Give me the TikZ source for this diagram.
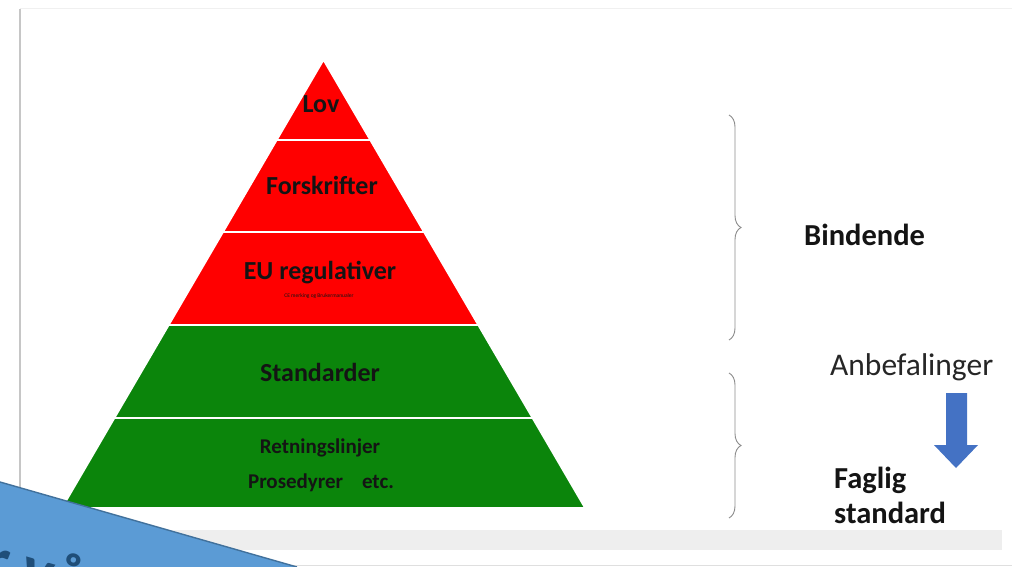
\documentclass[tikz,border=0pt]{standalone}
\usepackage{fontspec}
\setmainfont{Carlito}
\usetikzlibrary{decorations.pathreplacing}
\definecolor{pyred}{HTML}{FF0000}
\definecolor{pygreen}{HTML}{0B850B}
\definecolor{txtdark}{HTML}{141414}
\definecolor{bracegray}{HTML}{8C8C8C}
\definecolor{arrowblue}{HTML}{4472C4}
\definecolor{shapeblue}{HTML}{5B9BD5}
\definecolor{shapeedge}{HTML}{41719C}
\definecolor{bluetext}{HTML}{1F4E79}
\definecolor{bargray}{HTML}{EEEEEE}
\tikzset{
  layer/.style={draw=white, line width=1.6pt, line join=miter},
  ptext/.style={anchor=base, inner sep=0pt, text=txtdark, font=\bfseries\fontsize{26}{30}\selectfont},
  psmall/.style={anchor=base, inner sep=0pt, text=txtdark, font=\bfseries\fontsize{21}{25}\selectfont},
  sidetext/.style={anchor=base west, inner sep=0pt, text=txtdark, font=\bfseries\fontsize{30.5}{34}\selectfont},
  bracestyle/.style={draw=bracegray, line width=0.9pt, decorate, decoration={brace, amplitude=12pt, aspect=0.5}},
}
\begin{document}
\begin{tikzpicture}[x=1pt, y=-1pt]
\useasboundingbox (0,0) rectangle (1012,567);
\fill[white] (0,0) rectangle (1012,567);
% slide frame
\draw[gray!12, line width=1pt] (20,9) -- (1012,9);
\draw[gray!45, line width=1.6pt] (20,9) -- (20,567);
\fill[bargray] (20,530) rectangle (1002,550);
\draw[gray!25, line width=0.8pt] (20,565) -- (1012,565);
% pyramid layers
\fill[pyred, layer] (323.5,60) -- (370.2,140) -- (276.8,140) -- cycle;
\fill[pyred, layer] (276.8,140) -- (370.2,140) -- (423.9,232) -- (223.1,232) -- cycle;
\fill[pyred, layer] (223.1,232) -- (423.9,232) -- (478.2,325) -- (168.8,325) -- cycle;
\fill[pygreen, layer] (168.8,325) -- (478.2,325) -- (532.5,418) -- (114.5,418) -- cycle;
\fill[pygreen, layer] (114.5,418) -- (532.5,418) -- (585,508) -- (62,508) -- cycle;
% pyramid labels
\node[ptext] (lov) at (321,113) {Lov};
\node[ptext] (forskrifter) at (322,194) {Forskrifter};
\node[ptext] (eureg) at (320,279) {EU regulativer};
\node[anchor=base, inner sep=0pt, text=txtdark, font=\fontsize{5.5}{6}\selectfont] (ce) at (319,297) {CE merking og Brukermanualer};
\node[ptext] (standarder) at (320,381) {Standarder};
\node[psmall] (retning) at (320,453) {Retningslinjer};
\node[psmall] (prosedyrer) at (321,488) {Prosedyrer\hspace{0.9em}etc.};
% braces
\coordinate (b1top) at (729,115);
\coordinate (b1bot) at (729,340);
\coordinate (b2top) at (729,373);
\coordinate (b2bot) at (729,518);
\draw[bracestyle] (b1top) -- (b1bot);
\draw[bracestyle] (b2top) -- (b2bot);
% side labels
\node[sidetext] (bindende) at (804,245) {Bindende};
\node[anchor=base west, inner sep=0pt, text=black!85, font=\fontsize{31.5}{36}\selectfont] (anbef) at (830,375) {Anbefalinger};
\node[sidetext] (faglig) at (834,488) {Faglig};
\node[sidetext] (standard) at (834,523) {standard};
% down arrow
\fill[arrowblue] (946,393) -- (967,393) -- (967,445) -- (978,445) -- (956,468) -- (934,445) -- (946,445) -- cycle;
% blue overlapping shape
\fill[shapeblue] (0,482) -- (297,567) -- (0,567) -- cycle;
\begin{scope}
\clip (0,482) -- (297,567) -- (0,567) -- cycle;
\node[rotate=-16, anchor=base west, inner sep=0pt, text=bluetext, font=\bfseries\fontsize{66}{70}\selectfont] (bluetxt) at (-20,577) {r vå};
\end{scope}
\draw[shapeedge, line width=1.4pt] (0,482) -- (297,567);
\end{tikzpicture}
\end{document}
